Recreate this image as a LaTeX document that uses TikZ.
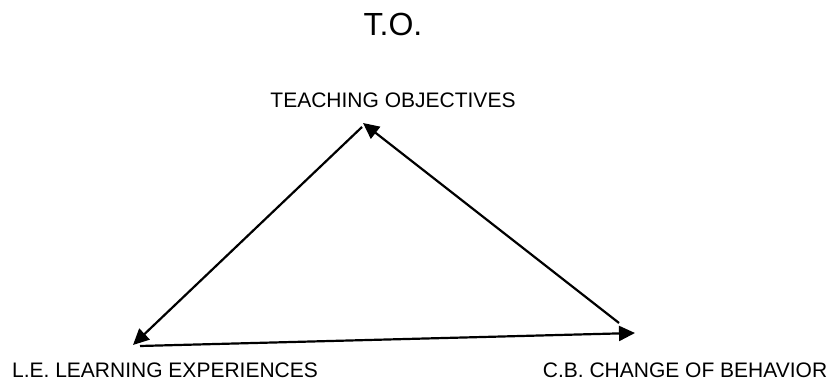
\documentclass[tikz,border=0pt]{standalone}
\usepackage{fontspec}
\setmainfont{Liberation Sans}
\usetikzlibrary{arrows.meta}

\begin{document}
\begin{tikzpicture}[x=0.5pt,y=-0.5pt,
        label/.style={inner sep=0pt,font=\fontsize{10.5}{12}\selectfont},
        side/.style={line width=1.1pt,-{Triangle[length=8pt,width=7.5pt]}}]
        \useasboundingbox (0,0) rectangle (833,383);

        \node (title) at (393,24) [inner sep=0pt,font=\fontsize{16}{19}\selectfont] {T.O.};
        \node[label] (to) at (393,100) {TEACHING OBJECTIVES};
        \node[label] (le) at (165,370) {L.E. LEARNING EXPERIENCES};
        \node[label] (cb) at (685,370) {C.B. CHANGE OF BEHAVIOR};

        \coordinate (top)    at (363,123);
        \coordinate (topl)   at (362,127);
        \coordinate (left)   at (133,345);
        \coordinate (leftb)  at (140,346);
        \coordinate (right)  at (635,333);
        \coordinate (rightt) at (619,323);

        \draw[side] (rightt) -- (top);
        \draw[side] (topl)   -- (left);
        \draw[side] (leftb)  -- (right);
    \end{tikzpicture}
\end{document}
